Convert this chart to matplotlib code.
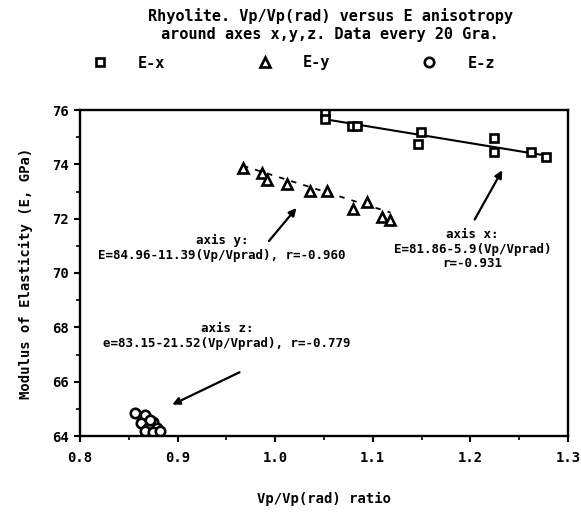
import matplotlib
matplotlib.use("Agg")
import matplotlib.pyplot as plt
from matplotlib.ticker import MultipleLocator, FormatStrFormatter
import numpy as np

# ---- data ----
ex_x = [1.051, 1.051, 1.079, 1.084, 1.149, 1.146, 1.224, 1.224, 1.262, 1.277]
ex_y = [75.93, 75.67, 75.41, 75.41, 75.19, 74.75, 74.97, 74.45, 74.45, 74.27]

ey_x = [0.967, 0.986, 0.992, 1.012, 1.036, 1.053, 1.080, 1.094, 1.109, 1.118]
ey_y = [73.85, 73.69, 73.42, 73.26, 73.02, 73.02, 72.36, 72.60, 72.05, 71.95]

ez_x = [0.856, 0.867, 0.875, 0.863, 0.870, 0.879, 0.867, 0.875, 0.882, 0.872]
ez_y = [64.84, 64.77, 64.53, 64.47, 64.29, 64.29, 64.19, 64.15, 64.19, 64.59]

# regression lines (coefficients printed on the chart)
fit_x = (81.86, 5.9)
fit_y = (84.96, 11.39)
fitx_range = [1.051, 1.277]
fity_range = [0.967, 1.118]

x_ticks = [0.8, 0.9, 1.0, 1.1, 1.2, 1.3]
y_ticks = [64, 66, 68, 70, 72, 74, 76]

title_lines = ["Rhyolite. Vp/Vp(rad) versus E anisotropy",
               "around axes x,y,z. Data every 20 Gra."]
legend_labels = ["E-x", "E-y", "E-z"]
ann_y = "axis y:\nE=84.96-11.39(Vp/Vprad), r=-0.960"
ann_x = "axis x:\nE=81.86-5.9(Vp/Vprad)\nr=-0.931"
ann_z = "axis z:\ne=83.15-21.52(Vp/Vprad), r=-0.779"

FONT = "DejaVu Sans Mono"
plt.rcParams['font.family'] = [FONT, 'DejaVu Sans']
plt.rcParams['font.weight'] = 'bold'

fig = plt.figure(figsize=(5.81, 5.12), dpi=100)
ax = fig.add_axes([80/581, 1-436/512, 488/581, 326/512])

mk = dict(markerfacecolor='white', markeredgecolor='black', markeredgewidth=1.9,
          linestyle='none', color='black')
hx, = ax.plot(ex_x, ex_y, marker='s', markersize=6.2, **mk)
hy, = ax.plot(ey_x, ey_y, marker='^', markersize=6.5, **mk)
hz, = ax.plot(ez_x, ez_y, marker='o', markersize=6.8, **mk)

xr = np.array(fitx_range)
ax.plot(xr, fit_x[0] - fit_x[1]*xr, color='black', lw=1.5, zorder=1)
yr = np.array(fity_range)
ax.plot(yr, fit_y[0] - fit_y[1]*yr, color='black', lw=1.3, ls=(0, (3, 4)), zorder=1)

ax.set_xlim(0.8, 1.3)
ax.set_ylim(64, 76)
ax.set_xticks(x_ticks)
ax.set_yticks(y_ticks)
ax.xaxis.set_major_formatter(FormatStrFormatter('%.1f'))
ax.xaxis.set_minor_locator(MultipleLocator(0.05))
ax.yaxis.set_minor_locator(MultipleLocator(1))
ax.tick_params(which='major', direction='out', length=4, width=1.5, labelsize=10, pad=4)
ax.tick_params(which='minor', direction='out', length=3, width=1.2)
ax.tick_params(axis='x', pad=7)
for s in ax.spines.values():
    s.set_linewidth(1.7)

for lab in ax.get_xticklabels() + ax.get_yticklabels():
    lab.set_fontweight('bold')

ax.set_xlabel("Vp/Vp(rad) ratio", fontsize=10, fontweight='bold', labelpad=19)
ax.set_ylabel("Modulus of Elasticity (E, GPa)", fontsize=10, fontweight='bold', labelpad=14)

fig.text(0.568, 1-16/512, title_lines[0], ha='center', va='center', fontsize=11, fontweight='bold')
fig.text(0.568, 1-35/512, title_lines[1], ha='center', va='center', fontsize=11, fontweight='bold')

fig.legend([hx, hy, hz], legend_labels, ncol=3, loc='center left',
           bbox_to_anchor=(92/581, 1-63/512), frameon=False,
           handlelength=1, handletextpad=2.0, columnspacing=6.0,
           borderpad=0, borderaxespad=0, prop={'weight': 'bold', 'size': 11})

akw = dict(ha='center', va='center', fontsize=9, fontweight='bold', linespacing=1.15)
ax.text(0.9456, 70.92, ann_y, **akw)
ax.text(1.202, 70.87, ann_x, **akw)
ax.text(0.9508, 67.68, ann_z, **akw)

arr = dict(arrowstyle='-|>', color='black', lw=1.6, mutation_scale=11)
ax.annotate('', xy=(1.0236, 72.47), xytext=(0.9918, 71.10), arrowprops=arr)
ax.annotate('', xy=(1.234, 73.87), xytext=(1.203, 71.88), arrowprops=arr)
ax.annotate('', xy=(0.892, 65.11), xytext=(0.966, 66.39), arrowprops=arr)

fig.savefig("out.png", dpi=100)
